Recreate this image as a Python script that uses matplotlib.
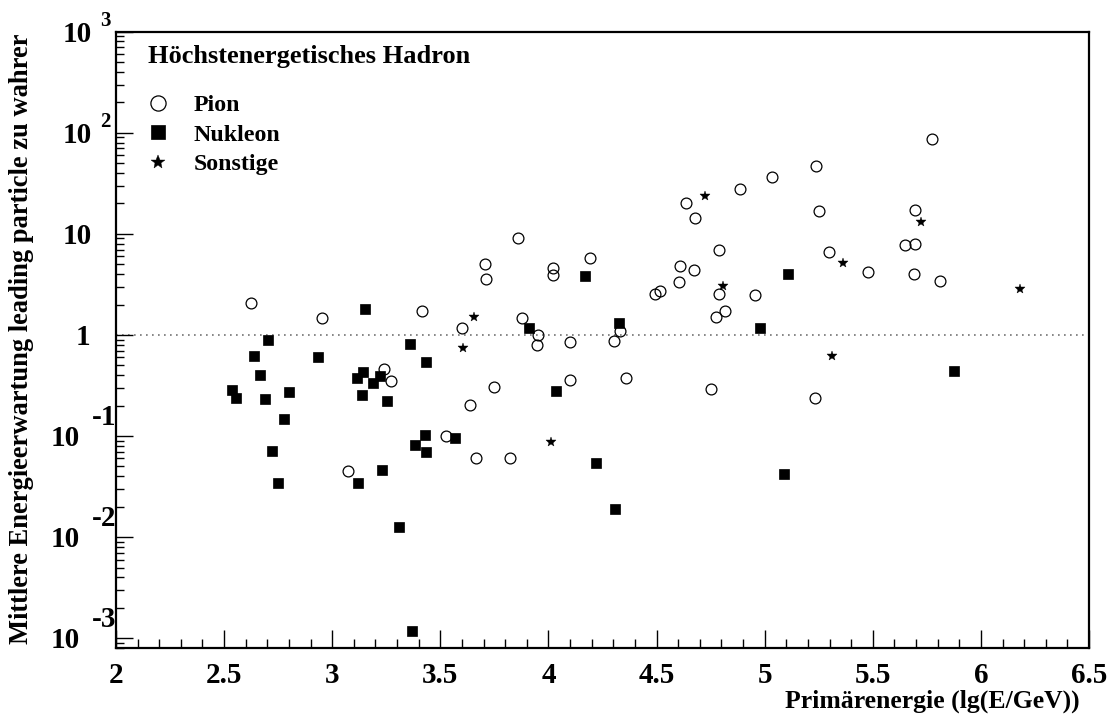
import matplotlib
matplotlib.use("Agg")
import matplotlib.pyplot as plt
from matplotlib.ticker import FixedLocator, LogLocator, NullFormatter, FuncFormatter

# ---- data: lg(E/GeV) and ratio of mean energy of leading particle to true value ----
pion_x = [2.623, 2.951, 3.239, 3.270, 3.074, 3.415, 3.598, 3.706, 3.709, 3.857,
          3.880, 3.950, 3.945, 4.022, 4.019, 4.099, 4.191, 3.748, 3.637, 4.098,
          4.358, 4.333, 4.304, 3.524, 3.663, 3.822, 4.492, 4.515, 4.607, 4.603,
          4.675, 4.635, 4.677, 4.886, 5.033, 5.238, 5.252, 5.774, 5.693, 4.788,
          4.788, 4.817, 4.777, 4.752, 4.954, 5.298, 5.477, 5.648, 5.693, 5.691,
          5.813, 5.235]
pion_y = [2.06, 1.46, 0.462, 0.354, 0.0447, 1.71, 1.16, 5.02, 3.55, 9.2,
          1.46, 1.0, 0.80, 4.62, 3.91, 0.85, 5.72, 0.305, 0.204, 0.362,
          0.379, 1.10, 0.873, 0.1007, 0.0607, 0.061, 2.52, 2.74, 4.83, 3.36,
          4.38, 20.4, 14.5, 28.1, 36.3, 46.9, 17.0, 87.5, 17.4, 6.90,
          2.52, 1.74, 1.50, 0.295, 2.48, 6.64, 4.19, 7.73, 7.91, 3.97,
          3.41, 0.240]

nukleon_x = [3.151, 2.701, 2.639, 2.932, 3.143, 3.116, 3.221, 3.187, 2.666, 2.538,
             2.553, 2.798, 2.689, 3.136, 3.254, 2.777, 2.720, 2.748, 3.117, 3.228,
             3.310, 3.367, 3.362, 3.435, 3.430, 3.384, 3.433, 3.569, 3.909, 4.034,
             4.168, 4.218, 4.307, 4.325, 4.979, 5.110, 5.090, 5.877]
nukleon_y = [1.81, 0.893, 0.621, 0.602, 0.434, 0.374, 0.397, 0.334, 0.403, 0.286,
             0.237, 0.272, 0.232, 0.252, 0.220, 0.147, 0.0716, 0.0344, 0.0344, 0.0465,
             0.01253, 0.00118, 0.815, 0.541, 0.1014, 0.0821, 0.0695, 0.0956, 1.16, 0.280,
             3.82, 0.0536, 0.0190, 1.32, 1.18, 4.03, 0.0425, 0.441]

sonst_x = [3.654, 3.603, 4.011, 4.722, 4.809, 5.364, 5.725, 5.310, 6.183]
sonst_y = [1.50, 0.739, 0.0865, 23.7, 3.05, 5.10, 12.97, 0.621, 2.83]

series_labels = ["Pion", "Nukleon", "Sonstige"]
legend_title = "Höchstenergetisches Hadron"
x_label = "Primärenergie (lg(E/GeV))"
y_label = "Mittlere Energieerwartung leading particle zu wahrer"
x_major = [2, 2.5, 3, 3.5, 4, 4.5, 5, 5.5, 6, 6.5]
y_decades = [-3, -2, -1, 0, 1, 2, 3]

plt.rcParams["font.family"] = ["Liberation Serif", "DejaVu Serif"]
plt.rcParams["font.weight"] = "bold"

fig = plt.figure(figsize=(11.14, 7.19), dpi=100)
ax = fig.add_axes([0.10413, 0.09875, 0.87343, 0.85716])

ax.set_yscale("log")
ax.set_xlim(2, 6.5)
ax.set_ylim(8e-4, 1000)

# reference line at ratio 1
ax.axhline(1.0, color="0.45", lw=1.2, ls=(0, (1.0, 2.6)), zorder=1)

h_pi, = ax.plot(pion_x, pion_y, "o", mfc="none", mec="black", ms=7.8, mew=0.9,
                label=series_labels[0], zorder=3)
h_nu, = ax.plot(nukleon_x, nukleon_y, "s", mfc="black", mec="black", ms=7.5, mew=0.5,
                label=series_labels[1], zorder=3)
h_so, = ax.plot(sonst_x, sonst_y, "*", mfc="black", mec="black", ms=7.5, mew=0.3,
                label=series_labels[2], zorder=3)

for s in ax.spines.values():
    s.set_linewidth(1.6)

# x axis
ax.xaxis.set_major_locator(FixedLocator(x_major))
ax.xaxis.set_minor_locator(FixedLocator([2 + 0.1 * i for i in range(46)]))
ax.xaxis.set_major_formatter(FuncFormatter(lambda v, p: f"{v:g}"))
ax.tick_params(axis="x", which="major", direction="in", length=13, width=1.0,
               labelsize=21, pad=10, top=False)
ax.tick_params(axis="x", which="minor", direction="in", length=6.5, width=1.0, top=False)

# y axis
ax.yaxis.set_major_locator(FixedLocator([10.0 ** d for d in y_decades]))
ax.yaxis.set_minor_locator(LogLocator(base=10, subs=range(2, 10), numticks=20))
ax.yaxis.set_minor_formatter(NullFormatter())
ax.tick_params(axis="y", which="major", direction="in", length=12, width=1.0,
               labelleft=False, right=False)
ax.tick_params(axis="y", which="minor", direction="in", length=6, width=1.0, right=False)

# decade labels: base "10" with exponent placed beside it
fs_tick = 21
em_px = fs_tick * 100 / 72.0
base_off = -0.338 * em_px
for d in y_decades:
    val = 10.0 ** d
    kw = dict(xy=(0, val), xycoords=("axes fraction", "data"),
              textcoords="offset pixels", fontsize=fs_tick, fontweight="bold",
              va="baseline", annotation_clip=False)
    if d == 0:
        ax.annotate("1", xytext=(-26, base_off), ha="right", **kw)
    elif d == 1:
        ax.annotate("10", xytext=(-24, base_off), ha="right", **kw)
    elif d > 1:
        ax.annotate("10", xytext=(-24, base_off), ha="right", **kw)
        small = 15
        kw_s = dict(kw, fontsize=small)
        ax.annotate(str(d), xytext=(-16, 13 - 0.338 * small * 100 / 72.0), ha="left", **kw_s)
    else:
        ax.annotate("10", xytext=(-36, base_off), ha="right", **kw)
        ax.annotate(str(d), xytext=(-24, 21 + base_off), ha="left", **kw)

# legend
ax.text(0.0332, 0.9487, legend_title, transform=ax.transAxes, fontsize=19,
        fontweight="bold", ha="left", va="baseline")
ax.legend(handles=[h_pi, h_nu, h_so], labels=series_labels, loc="upper left",
          bbox_to_anchor=(0.0313, 0.8985), frameon=False,
          prop={"family": "Liberation Serif", "weight": "bold", "size": 17.2},
          markerscale=1.4, handlelength=1.0, handletextpad=0.98,
          labelspacing=0.335, borderpad=0, borderaxespad=0)

fig.text(1080 / 1114, 1 - 708 / 719, x_label, fontsize=18.5, fontweight="bold",
         ha="right", va="baseline")
fig.text(22 / 1114, 1 - 339 / 719, y_label, fontsize=19.1, fontweight="bold",
         rotation=90, ha="center", va="center")

fig.savefig("out.png", dpi=100)
